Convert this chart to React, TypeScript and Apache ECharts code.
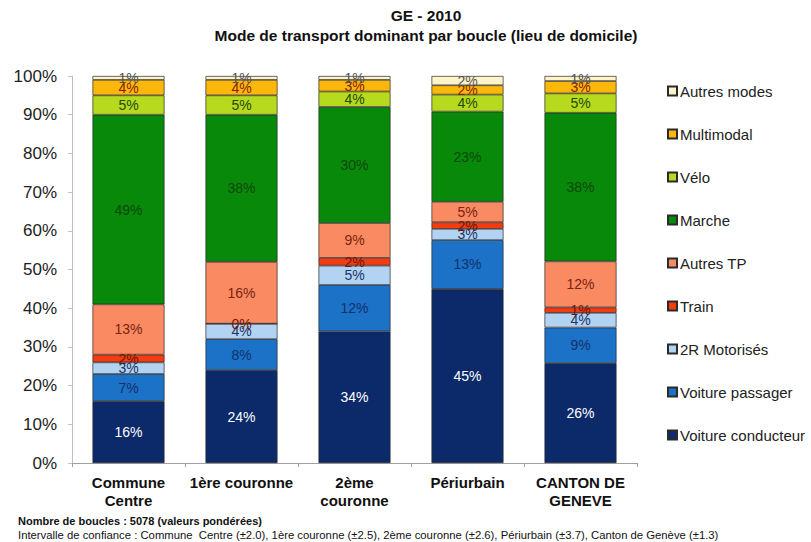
import React, { useEffect, useRef } from "react";
import * as echarts from "echarts";

const categories = ["Commune\nCentre", "1ère couronne", "2ème\ncouronne", "Périurbain", "CANTON DE\nGENEVE"];
const voitureConducteur = [16, 24, 34, 45, 25.8];
const voiturePassager = [7, 8, 12, 12.6, 9.2];
const deuxRoues = [3, 4, 5, 2.9, 3.8];
const train = [2, 0, 2, 1.7, 1.4];
const autresTP = [13, 16, 9, 5.3, 11.9];
const marche = [49, 38, 30, 23.3, 38.4];
const velo = [5, 5, 4, 4.4, 5.0];
const multimodal = [4, 4, 3, 2.4, 3.2];
const autresModes = [1, 1, 1, 2.4, 1.3];
const yTicks = [0, 10, 20, 30, 40, 50, 60, 70, 80, 90, 100];

const seriesDefs = [
  { name: "Voiture conducteur", data: voitureConducteur, color: "#0c2a6a", label: "#ffffff" },
  { name: "Voiture passager", data: voiturePassager, color: "#1b72c6", label: "#13316b" },
  { name: "2R Motorisés", data: deuxRoues, color: "#b3d3f3", label: "#1b3566" },
  { name: "Train", data: train, color: "#f53c10", label: "#6e1808" },
  { name: "Autres TP", data: autresTP, color: "#f98a62", label: "#7a2410" },
  { name: "Marche", data: marche, color: "#08890a", label: "#0b470b" },
  { name: "Vélo", data: velo, color: "#b7d91e", label: "#1e4a06" },
  { name: "Multimodal", data: multimodal, color: "#fbb80b", label: "#8a1c02" },
  { name: "Autres modes", data: autresModes, color: "#fff3c9", label: "#555555" },
];

const FONT = "'Liberation Sans', Arial, sans-serif";

export default function App() {
  const ref = useRef<HTMLDivElement>(null);
  useEffect(() => {
    if (!ref.current) return;
    const chart = echarts.init(ref.current, undefined, { renderer: "svg" });
    chart.setOption({
      animation: false,
      backgroundColor: "#ffffff",
      textStyle: { fontFamily: FONT },
      graphic: [
        {
          type: "text",
          x: 426,
          y: 15,
          style: { text: "GE - 2010", font: `bold 15.5px ${FONT}`, fill: "#111", textAlign: "center", textVerticalAlign: "middle" },
        },
        {
          type: "text",
          x: 426,
          y: 35,
          style: {
            text: "Mode de transport dominant par boucle (lieu de domicile)",
            font: `bold 15.5px ${FONT}`,
            fill: "#111",
            textAlign: "center",
            textVerticalAlign: "middle",
          },
        },
        {
          type: "text",
          x: 18,
          y: 521,
          style: { text: "Nombre de boucles : 5078 (valeurs pondérées)", font: `bold 11px ${FONT}`, fill: "#111", textVerticalAlign: "middle" },
        },
        {
          type: "text",
          x: 18,
          y: 535,
          style: {
            text: "Intervalle de confiance : Commune  Centre (±2.0), 1ère couronne (±2.5), 2ème couronne (±2.6), Périurbain (±3.7), Canton de Genève (±1.3)",
            font: `11.3px ${FONT}`,
            fill: "#111",
            textVerticalAlign: "middle",
          },
        },
      ],
      legend: {
        orient: "vertical",
        left: 662,
        top: 78,
        itemWidth: 9,
        itemHeight: 9,
        itemGap: 27,
        icon: "rect",
        data: [...seriesDefs].reverse().map((s) => s.name),
        textStyle: { fontSize: 15, color: "#222", fontFamily: FONT, padding: [0, 0, 0, -2], lineHeight: 16 },
      },
      grid: { left: 72, right: 174, top: 76, bottom: 79 },
      xAxis: {
        type: "category",
        data: categories,
        axisLine: { lineStyle: { color: "#a0a0a0" } },
        axisTick: { show: true, length: 4, lineStyle: { color: "#a0a0a0" } },
        axisLabel: { fontSize: 15, fontWeight: "bold", color: "#111", margin: 10, lineHeight: 18, fontFamily: FONT, interval: 0 },
      },
      yAxis: {
        type: "value",
        min: yTicks[0],
        max: yTicks[yTicks.length - 1],
        interval: 10,
        splitLine: { show: false },
        axisLine: { show: true, lineStyle: { color: "#c0c0c0" } },
        axisTick: { show: true, length: 4, lineStyle: { color: "#c0c0c0" } },
        axisLabel: { fontSize: 17, color: "#222", margin: 15, formatter: "{value}%", fontFamily: FONT },
      },
      series: seriesDefs.map((s) => ({
        name: s.name,
        type: "bar",
        stack: "total",
        data: s.data,
        barWidth: 72,
        itemStyle: { color: s.color, borderColor: "#2a2a2a", borderWidth: 0.7 },
        label: {
          show: true,
          position: "inside",
          fontSize: 14,
          color: s.label,
          fontFamily: FONT,
          formatter: (p: any) => `${Math.round(p.value)}%`,
        },
      })),
    });
    return () => chart.dispose();
  }, []);
  return <div ref={ref} style={{ position: "fixed", left: 0, top: 0, width: 811, height: 542 }} />;
}
